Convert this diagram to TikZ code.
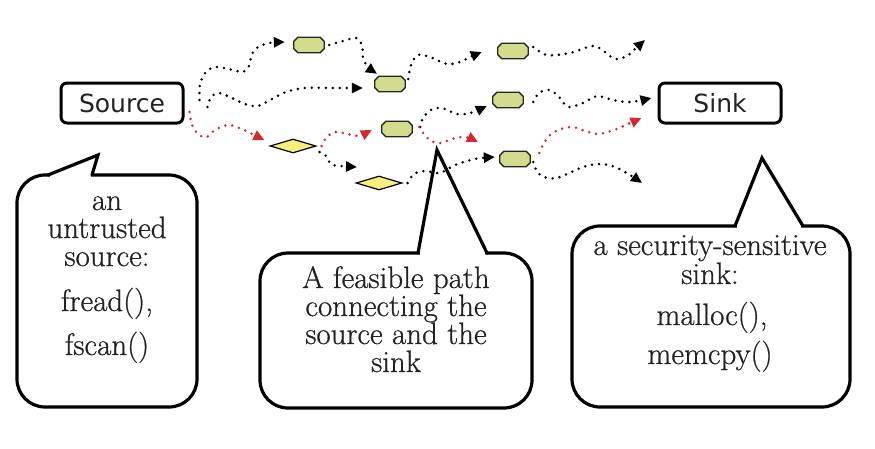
\documentclass[tikz,border=0pt]{standalone}
\usepackage{fontspec}
\newfontfamily\boxfont{DejaVu Sans}
\newfontfamily\callfont{Latin Modern Roman}[FakeBold=0.6]
\usetikzlibrary{shapes.geometric,arrows.meta}
\definecolor{octfill}{HTML}{D3DB8C}
\definecolor{diafill}{HTML}{F7EF7A}
\definecolor{redpath}{HTML}{D7262E}
\definecolor{txt}{HTML}{222222}
\newcommand{\octshape}[1]{%
  \draw[octd] ([shift={(4,0)}]#1.north west) -- ([shift={(-4,0)}]#1.north east)
    -- ([shift={(0,4)}]#1.north east) -- ([shift={(0,-4)}]#1.south east)
    -- ([shift={(-4,0)}]#1.south east) -- ([shift={(4,0)}]#1.south west)
    -- ([shift={(0,-4)}]#1.south west) -- ([shift={(0,4)}]#1.north west) -- cycle;}
\begin{document}
\begin{tikzpicture}[x=1pt,y=-1pt,
  term/.style={draw=black, line width=3pt, rounded corners=6pt, minimum width=122pt, minimum height=40pt, inner sep=0pt, font=\boxfont\fontsize{25}{25}\selectfont, text=txt},
  oct/.style={rectangle, minimum width=30pt, minimum height=15pt, inner sep=0pt},
  octd/.style={draw=black!85, line width=1.3pt, fill=octfill, line join=miter},
  dia/.style={diamond, draw=black, line width=1.2pt, fill=diafill, minimum width=46pt, minimum height=14pt, inner sep=0pt},
  dotted path/.style={line width=2.8pt, dash pattern=on 0pt off 7pt, line cap=round},
  blk/.style={dotted path, black, -{Triangle[length=11pt,width=10pt]}},
  redp/.style={dotted path, redpath, -{Triangle[length=11pt,width=10pt]}},
  callout/.style={draw=black, line width=3.2pt, fill=white, rounded corners=28pt},
  pointer/.style={draw=black, line width=3.2pt, line cap=round, line join=miter},
  ctext/.style={font=\callfont\fontsize{31}{31}\selectfont, text=txt, anchor=base, inner sep=0pt},
  sm/.style={smooth, tension=0.55}
]
\useasboundingbox (0,0) rectangle (875,448);

% callouts
\draw[callout] (17,175) rectangle (197,407);
\fill[white] (50,177.8) -- (50,173) -- (98,155) -- (91,173) -- (91,177.8) -- cycle;
\draw[pointer] (48,175) -- (98,155) -- (92,175);
\node[ctext] (l1) at (107,210) {an};
\node[ctext] (l2) at (107,238) {untrusted};
\node[ctext] (l3) at (107,266) {source:};
\node[ctext] (l4) at (107,311) {fread(),};
\node[ctext] (l5) at (107,355) {fscan()};

\draw[callout] (260,253) rectangle (532,408);
\fill[white] (420,255.8) -- (420,251) -- (437,150) -- (485,251) -- (485,255.8) -- cycle;
\draw[pointer] (418,253) -- (437,150) -- (487,253);
\node[ctext] (m1) at (396,288) {A feasible path};
\node[ctext] (m2) at (396,316) {connecting the};
\node[ctext] (m3) at (396,344) {source and the};
\node[ctext] (m4) at (396,372) {sink};

\draw[callout] (572,226) rectangle (850,407);
\fill[white] (737,228.8) -- (737,224) -- (762,158) -- (801,224) -- (801,228.8) -- cycle;
\draw[pointer] (735,226) -- (762,158) -- (803,226);
\node[ctext] (r1) at (710,255) {a security-sensitive};
\node[ctext] (r2) at (710,284) {sink:};
\node[ctext] (r3) at (712,325) {malloc(),};
\node[ctext] (r4) at (710,364) {memcpy()};

% nodes
\node[term] (src) at (122,103) {Source};
\node[term] (snk) at (720,103) {Sink};
\node[oct] (o1) at (309,45) {};
\node[oct] (o2) at (513,51) {};
\node[oct] (o3) at (390,84) {};
\node[oct] (o4) at (508,100) {};
\node[oct] (o5) at (397,129) {};
\node[oct] (o6) at (515,159) {};
\octshape{o1}\octshape{o2}\octshape{o3}\octshape{o4}\octshape{o5}\octshape{o6}
\node[dia] (d1) at (293,146) {};
\node[dia] (d2) at (379,183) {};

% connector end points
\coordinate (a0) at ([shift={(15,-3)}]src.east);
\coordinate (a9) at ([shift={(-9,-3)}]o1.west);
\coordinate (b0) at ([shift={(23,4)}]src.east);
\coordinate (b9) at ([shift={(-12,4)}]o3.west);
\coordinate (c0) at ([xshift=5]o1.east);
\coordinate (c9) at ([shift={(-13,-2.5)}]o3.north);
\coordinate (d0) at ([shift={(3,-5)}]o3.east);
\coordinate (d9) at ([shift={(-16,1)}]o2.west);
\coordinate (e0) at ([shift={(5,-4)}]o2.east);
\coordinate (e9) at (645,40);
\coordinate (f0) at ([shift={(10,2)}]o4.east);
\coordinate (f9) at ([shift={(-6,-5)}]snk.west);
\coordinate (g0) at ([shift={(8,-2)}]o5.east);
\coordinate (g9) at ([shift={(-6,6)}]o4.west);
\coordinate (h0) at ([shift={(3,6)}]d1.east);
\coordinate (h9) at ([shift={(-22,-16)}]d2.center);
\coordinate (i0) at ([xshift=5]d2.east);
\coordinate (i9) at ([shift={(-5,-2)}]o6.west);
\coordinate (j0) at ([shift={(3,3)}]o6.east);
\coordinate (j9) at (642,183);
\coordinate (s0) at ([shift={(5,9)}]src.east);
\coordinate (s9) at ([shift={(-5,-6)}]d1.west);
\coordinate (t0) at ([xshift=5]d1.east);
\coordinate (t9) at ([shift={(-10,1)}]o5.west);
\coordinate (u0) at ([shift={(7,-2)}]o5.east);
\coordinate (u9) at (478,142);
\coordinate (v0) at ([shift={(9,-6)}]o6.east);
\coordinate (v9) at ([shift={(-16,15)}]snk.west);

% black paths
\draw[blk] plot[sm] coordinates {(a0) (200,84) (206,72) (216,67) (233,70) (243,72) (249,66) (252,54) (258,47) (270,43) (a9)};
\draw[blk] plot[sm] coordinates {(b0) (211,97) (219,93) (232,98) (245,104) (258,106) (272,99) (286,92) (305,88) (335,88) (b9)};
\draw[blk] plot[sm] coordinates {(c0) (343,41) (356,38) (362,45) (363,57) (367,66) (c9)};
\draw[blk] plot[sm] coordinates {(d0) (411,65) (418,55) (430,57) (447,64) (460,62) (470,57) (d9)};
\draw[blk] plot[sm] coordinates {(e0) (547,55) (570,53) (593,46) (605,52) (615,59) (627,56) (636,48) (e9)};
\draw[blk] plot[sm] coordinates {(f0) (539,93) (550,90) (560,98) (568,107) (583,103) (597,96) (613,100) (630,102) (f9)};
\draw[blk] plot[sm] coordinates {(g0) (423,118) (431,110) (442,108) (457,114) (470,113) (g9)};
\draw[blk] plot[sm] coordinates {(h0) (326,156) (331,164) (340,166) (h9)};
\draw[blk] plot[sm] coordinates {(i0) (414,174) (425,171) (440,173) (455,165) (475,159) (i9)};
\draw[blk] plot[sm] coordinates {(j0) (538,173) (548,178) (560,177) (583,167) (600,164) (615,167) (630,175) (j9)};

% red path
\draw[redp] plot[sm] coordinates {(s0) (192,125) (199,135) (207,137) (215,130) (228,125) (242,129) (252,134) (s9)};
\draw[redp] plot[sm] coordinates {(t0) (326,138) (335,132) (348,134) (358,136) (t9)};
\draw[redp] plot[sm] coordinates {(u0) (424,134) (431,141) (440,143) (452,139) (465,137) (u9)};
\draw[redp] plot[sm] coordinates {(v0) (543,145) (549,136) (558,130) (572,127) (585,131) (598,134) (614,130) (628,124) (v9)};
\end{tikzpicture}
\end{document}
